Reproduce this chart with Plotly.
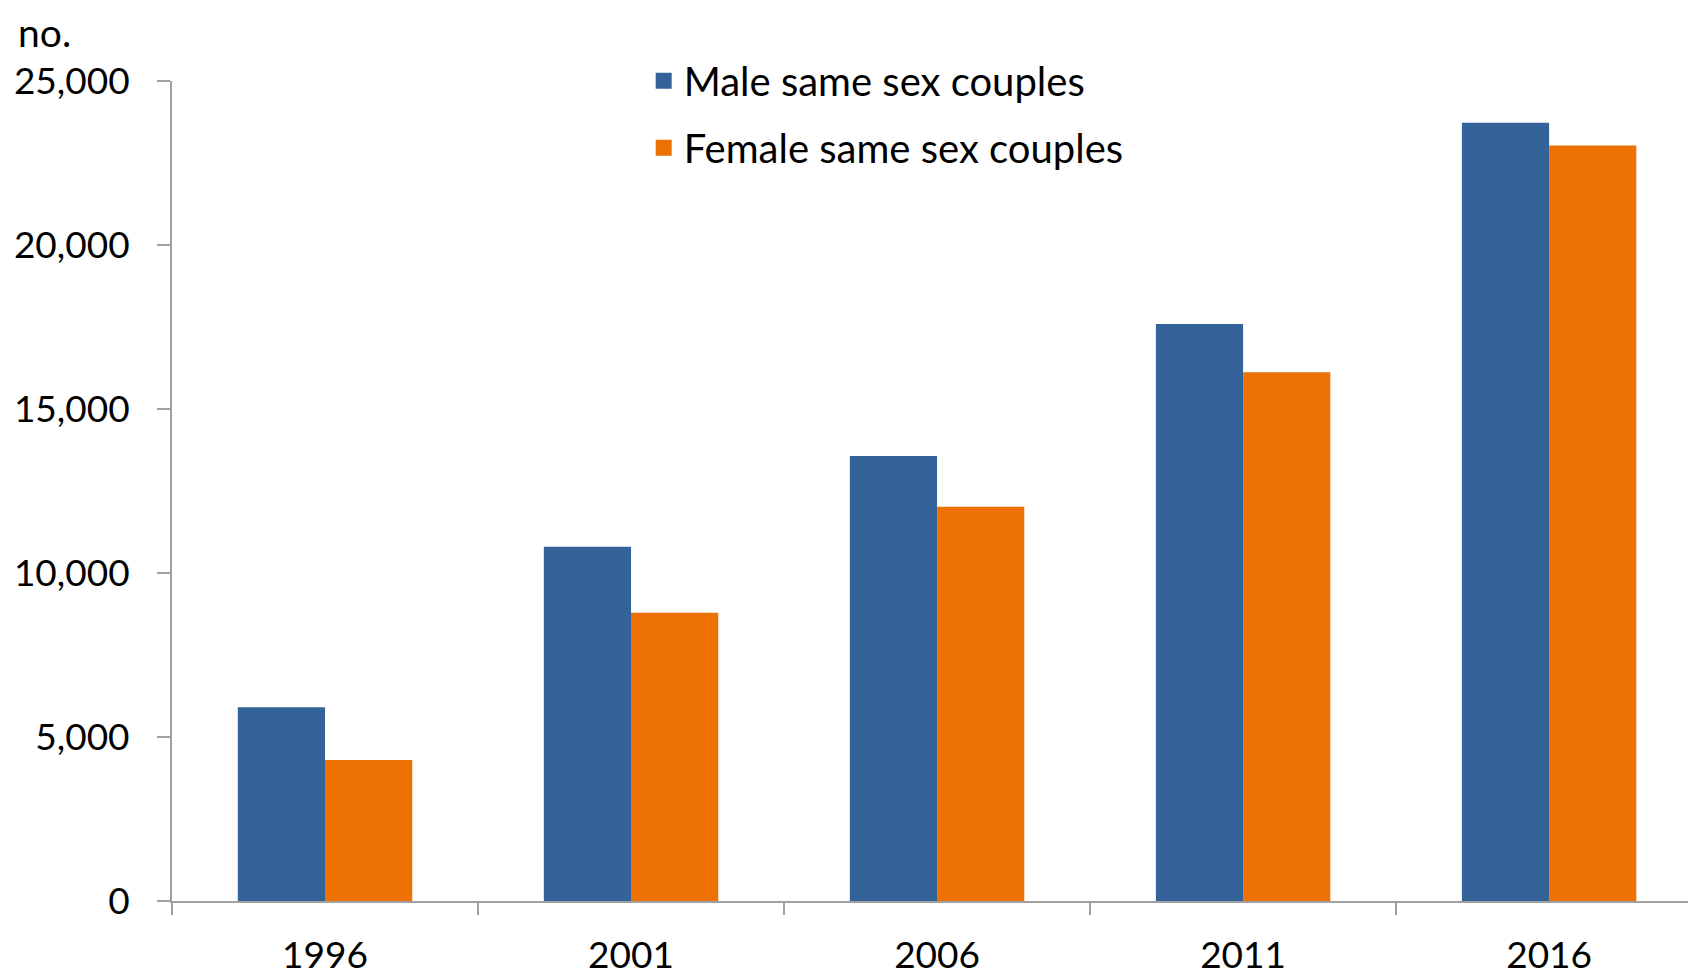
import plotly.graph_objects as go

years = ["1996", "2001", "2006", "2011", "2016"]
male = [5910, 10800, 13570, 17590, 23730]
female = [4300, 8790, 12020, 16120, 23030]
y_ticks = [0, 5000, 10000, 15000, 20000, 25000]

FONT = "Lato"
AXIS_GREY = "#a0a0a0"
BLUE = "#336398"
ORANGE = "#ED7103"

fig = go.Figure()
fig.add_trace(go.Bar(x=years, y=male, name="Male same sex couples",
                     marker=dict(color=BLUE, line=dict(width=0)),
                     showlegend=False))
fig.add_trace(go.Bar(x=years, y=female, name="Female same sex couples",
                     marker=dict(color=ORANGE, line=dict(width=0)),
                     showlegend=False))
# legend entries (larger square keys)
fig.add_trace(go.Scatter(x=[None], y=[None], mode="markers",
                         name="Male same sex couples", legendgroup="m",
                         marker=dict(symbol="square", size=22, color=BLUE)))
fig.add_trace(go.Scatter(x=[None], y=[None], mode="markers",
                         name="Female same sex couples", legendgroup="f",
                         marker=dict(symbol="square", size=22, color=ORANGE)))

fig.update_layout(
    width=1688, height=968,
    margin=dict(l=164, r=0, t=73, b=72),
    paper_bgcolor="white", plot_bgcolor="white",
    font=dict(family=FONT, size=37, color="black"),
    barmode="group", bargap=0.43, bargroupgap=0,
    showlegend=True,
    legend=dict(x=0.3095, y=1.040, xanchor="left", yanchor="top",
                font=dict(family=FONT, size=40, color="black"),
                bgcolor="rgba(0,0,0,0)", tracegroupgap=12,
                itemsizing="trace", traceorder="grouped"),
    xaxis=dict(type="category", range=[-0.5, 4.48], tickson="boundaries",
               ticks="outside", ticklen=12, tickwidth=2, tickcolor=AXIS_GREY,
               showline=True, linecolor=AXIS_GREY, linewidth=2,
               showgrid=False, zeroline=False,
               tickfont=dict(family=FONT, size=37, color="black"),
               ticklabelstandoff=21),
    yaxis=dict(range=[0, 25000], tickvals=y_ticks, tickformat=",",
               ticks="outside", ticklen=13, tickwidth=2, tickcolor=AXIS_GREY,
               showline=True, linecolor=AXIS_GREY, linewidth=2,
               showgrid=False, zeroline=False,
               tickfont=dict(family=FONT, size=37, color="black"),
               ticklabelstandoff=20),
    annotations=[dict(text="no.", xref="paper", yref="paper",
                      x=-0.1017, y=1.0887, xanchor="left", yanchor="top",
                      borderpad=0, showarrow=False,
                      font=dict(family=FONT, size=39, color="black"))],
)

fig.write_html("out.html")
